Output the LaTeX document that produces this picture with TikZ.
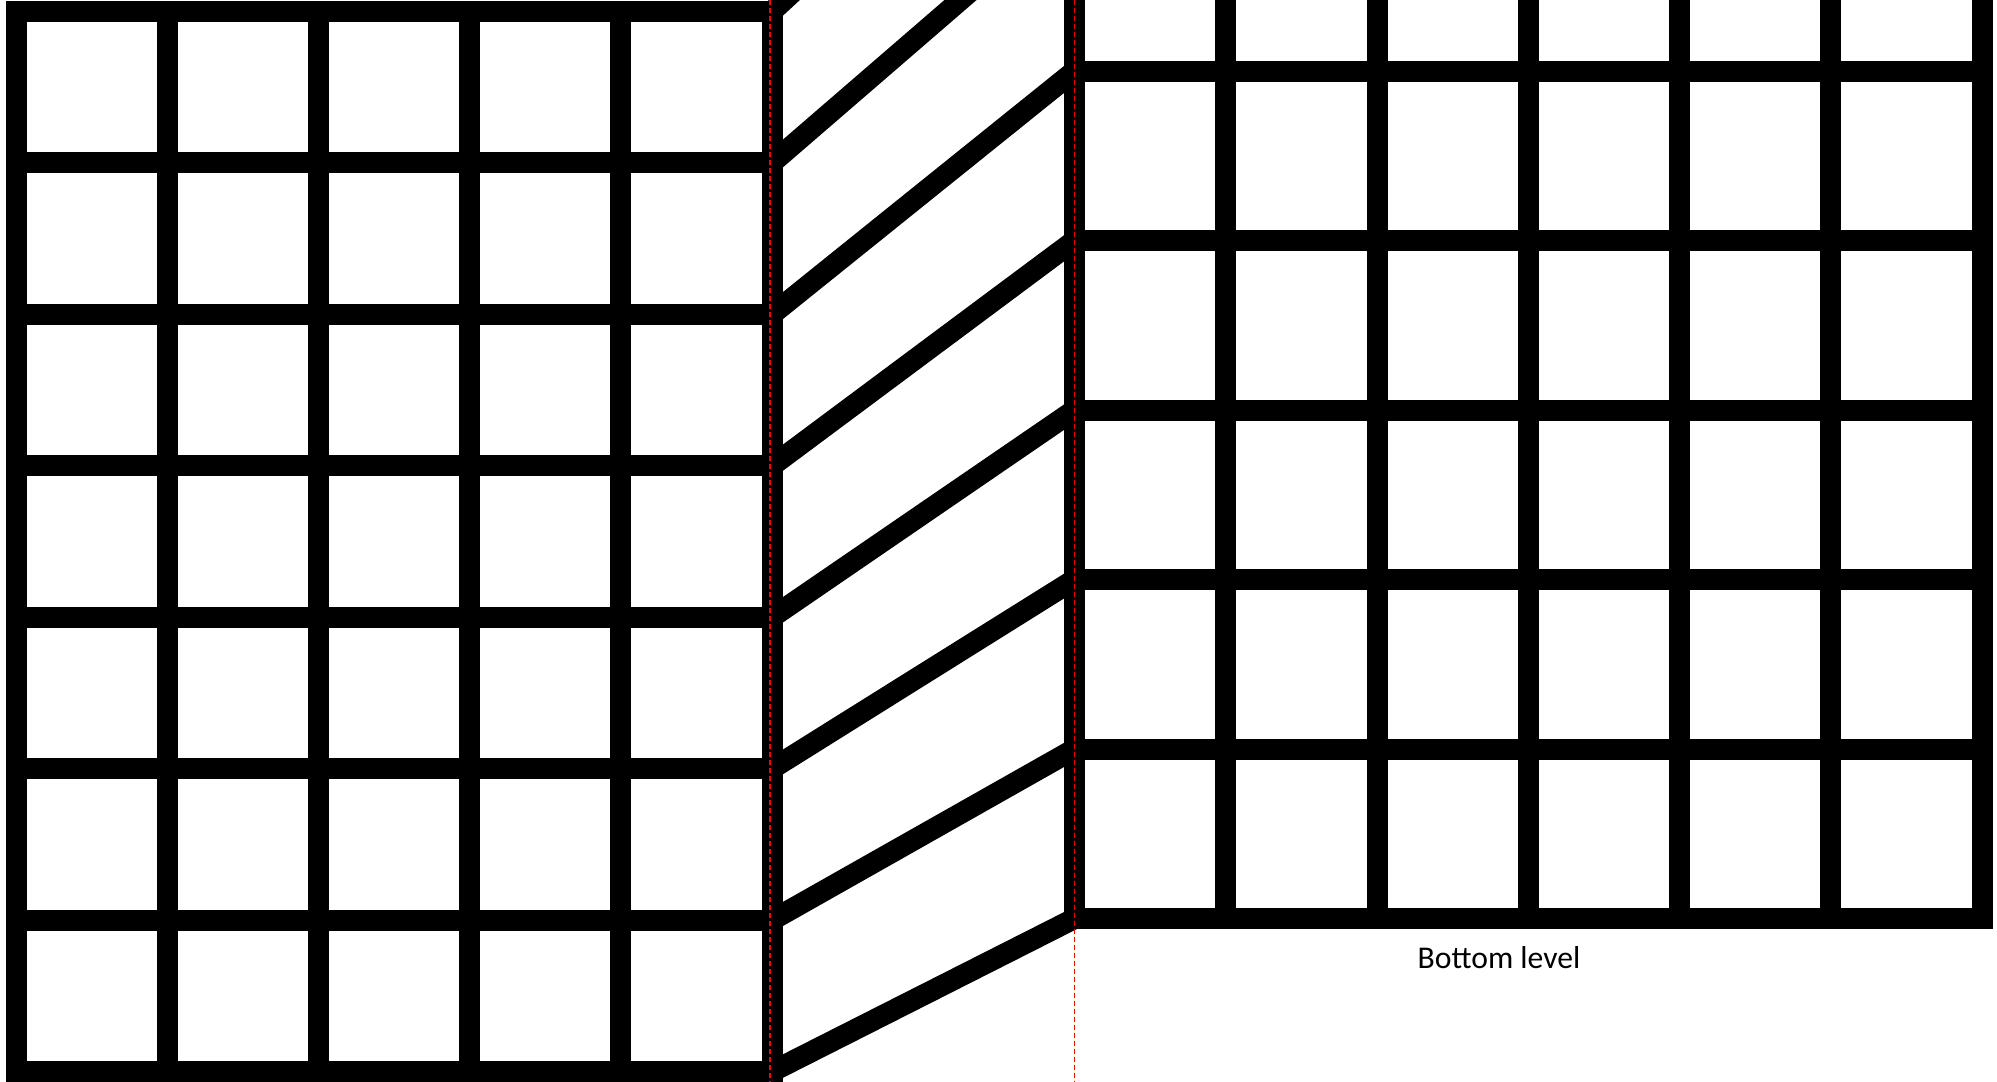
\documentclass[tikz,border=0pt]{standalone}
\usepackage{fontspec}
\setmainfont{Carlito}
\begin{document}
\begin{tikzpicture}[x=0.01cm,y=-0.01cm,
  wall/.style={line width=0.21cm, line cap=rect},
  ramp/.style={line width=0.21cm, line cap=butt},
  guide/.style={red, line width=0.012cm, dash pattern=on 0.05cm off 0.03cm},
  lbl/.style={font=\fontsize{9pt}{10.8pt}\selectfont, inner sep=0pt, anchor=base}]
\useasboundingbox (0,0) rectangle (1997,1081);
\clip (0,0) rectangle (1997,1081);
% left grid (upper level)
\foreach \i in {0,...,7}
  \draw[wall] (16.5, 11.5+151.45*\i) -- (772, 11.5+151.45*\i);
\foreach \j in {0,...,5}
  \draw[wall] (16.5+151.1*\j, 11.5) -- (16.5+151.1*\j, 1072);
% right grid (bottom level)
\foreach \j in {0,...,6}
  \draw[wall] (1074.5+151.25*\j, -30) -- (1074.5+151.25*\j, 918.5);
\foreach \i in {0,...,5}
  \draw[wall] (1074.5, 918.5-169.5*\i) -- (1982, 918.5-169.5*\i);
% ramps
\foreach \k in {0,...,7}
  \draw[ramp] (772, 1071.6-151.45*\k) -- (1074.5, 918.5-169.5*\k);
% guides
\coordinate (g1t) at (770,0);
\coordinate (g1b) at (770,1081);
\coordinate (g2t) at (1074.7,0);
\coordinate (g2b) at (1074.7,1081);
\draw[guide] (g1t) -- (g1b);
\draw[guide] (g2t) -- (g2b);
\node[lbl] (bottom) at (1499,968) {Bottom level};
\end{tikzpicture}
\end{document}
